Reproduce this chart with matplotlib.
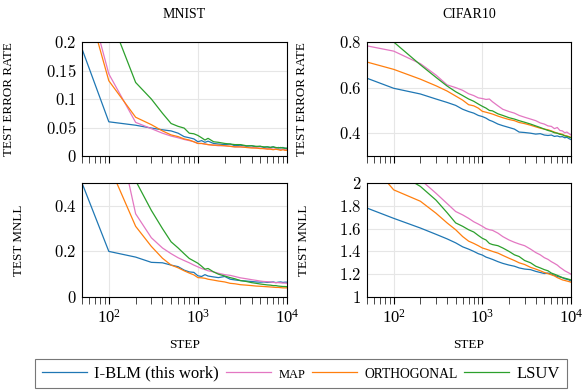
import matplotlib
matplotlib.use("Agg")
import matplotlib.pyplot as plt
from matplotlib.ticker import FixedLocator, LogLocator, NullFormatter, FuncFormatter

plt.rcParams['font.family'] = ['Liberation Serif', 'DejaVu Serif']
plt.rcParams['mathtext.fontset'] = 'cm'

steps = [50, 100, 200, 300, 400, 500, 600, 700, 800, 900, 1000, 1100, 1200, 1300,
         1500, 1700, 2000, 2300, 2600, 3000, 3500, 4000, 4500, 5000, 5500, 6000,
         6500, 7000, 7500, 8000, 8500, 9000, 9500, 10000]

# MNIST test error rate
mnist_err_iblm = [0.188, 0.060, 0.054, 0.049, 0.046, 0.044, 0.040, 0.034, 0.032, 0.030, 0.025, 0.027, 0.024, 0.026,
                  0.022, 0.021, 0.020, 0.021, 0.018, 0.019, 0.017, 0.018, 0.016, 0.017, 0.015, 0.016,
                  0.015, 0.016, 0.014, 0.015, 0.014, 0.015, 0.013, 0.014]
mnist_err_map = [0.32, 0.144, 0.059, 0.048, 0.040, 0.035, 0.032, 0.029, 0.027, 0.025, 0.022, 0.022, 0.021, 0.020,
                 0.019, 0.018, 0.018, 0.017, 0.016, 0.016, 0.015, 0.015, 0.014, 0.014, 0.013, 0.013,
                 0.013, 0.012, 0.012, 0.012, 0.011, 0.012, 0.011, 0.011]
mnist_err_orth = [0.30, 0.132, 0.068, 0.055, 0.044, 0.037, 0.034, 0.030, 0.028, 0.025, 0.022, 0.022, 0.021, 0.020,
                  0.019, 0.019, 0.018, 0.017, 0.016, 0.016, 0.015, 0.014, 0.014, 0.013, 0.013, 0.012,
                  0.012, 0.011, 0.012, 0.011, 0.010, 0.011, 0.010, 0.010]
mnist_err_lsuv = [0.40, 0.25, 0.129, 0.100, 0.075, 0.057, 0.052, 0.049, 0.040, 0.039, 0.036, 0.032, 0.028, 0.031,
                  0.025, 0.024, 0.022, 0.021, 0.020, 0.020, 0.018, 0.018, 0.017, 0.017, 0.016, 0.016,
                  0.015, 0.016, 0.015, 0.014, 0.015, 0.014, 0.014, 0.013]

# CIFAR10 test error rate
cifar_err_iblm = [0.641, 0.597, 0.572, 0.550, 0.535, 0.522, 0.505, 0.495, 0.488, 0.478, 0.473, 0.466, 0.457, 0.452,
                  0.440, 0.433, 0.425, 0.418, 0.405, 0.403, 0.400, 0.396, 0.398, 0.392, 0.390, 0.392,
                  0.386, 0.388, 0.384, 0.385, 0.380, 0.382, 0.376, 0.372]
cifar_err_map = [0.783, 0.760, 0.705, 0.655, 0.612, 0.600, 0.588, 0.573, 0.565, 0.555, 0.552, 0.548, 0.550, 0.538,
                 0.520, 0.505, 0.495, 0.488, 0.478, 0.470, 0.462, 0.455, 0.445, 0.440, 0.432, 0.430,
                 0.420, 0.425, 0.412, 0.410, 0.402, 0.405, 0.398, 0.392]
cifar_err_orth = [0.712, 0.680, 0.637, 0.608, 0.585, 0.563, 0.545, 0.525, 0.520, 0.510, 0.496, 0.492, 0.488, 0.484,
                  0.475, 0.468, 0.460, 0.455, 0.447, 0.442, 0.435, 0.428, 0.422, 0.418, 0.415, 0.410,
                  0.405, 0.400, 0.398, 0.395, 0.390, 0.388, 0.385, 0.382]
cifar_err_lsuv = [0.83, 0.800, 0.700, 0.645, 0.607, 0.582, 0.565, 0.550, 0.540, 0.528, 0.518, 0.510, 0.500, 0.498,
                  0.485, 0.478, 0.468, 0.462, 0.455, 0.448, 0.440, 0.432, 0.425, 0.418, 0.412, 0.408,
                  0.402, 0.400, 0.395, 0.393, 0.388, 0.386, 0.383, 0.380]

# MNIST test MNLL
mnist_nll_iblm = [0.50, 0.200, 0.175, 0.152, 0.150, 0.140, 0.133, 0.118, 0.110, 0.108, 0.093, 0.090, 0.098, 0.092,
                  0.088, 0.085, 0.090, 0.078, 0.075, 0.072, 0.070, 0.068, 0.066, 0.065, 0.066, 0.064,
                  0.065, 0.066, 0.063, 0.065, 0.066, 0.064, 0.065, 0.065]
mnist_nll_map = [1.5, 0.90, 0.365, 0.260, 0.215, 0.190, 0.172, 0.160, 0.150, 0.140, 0.132, 0.125, 0.120, 0.115,
                 0.110, 0.104, 0.098, 0.095, 0.090, 0.084, 0.080, 0.076, 0.073, 0.070, 0.068, 0.067,
                 0.066, 0.064, 0.063, 0.063, 0.062, 0.061, 0.061, 0.060]
mnist_nll_orth = [1.2, 0.58, 0.310, 0.222, 0.170, 0.140, 0.128, 0.115, 0.105, 0.097, 0.085, 0.084, 0.082, 0.078,
                  0.074, 0.070, 0.066, 0.060, 0.058, 0.054, 0.052, 0.050, 0.048, 0.047, 0.046, 0.045,
                  0.044, 0.043, 0.042, 0.042, 0.041, 0.040, 0.040, 0.040]
mnist_nll_lsuv = [1.8, 1.1, 0.51, 0.380, 0.300, 0.242, 0.215, 0.190, 0.169, 0.158, 0.148, 0.135, 0.122, 0.125,
                  0.110, 0.100, 0.092, 0.085, 0.080, 0.072, 0.068, 0.063, 0.060, 0.057, 0.055, 0.053,
                  0.052, 0.050, 0.050, 0.048, 0.047, 0.046, 0.046, 0.045]

# CIFAR10 test MNLL
cifar_nll_iblm = [1.78, 1.69, 1.605, 1.55, 1.51, 1.475, 1.44, 1.42, 1.40, 1.38, 1.368, 1.35, 1.34, 1.33,
                  1.31, 1.295, 1.28, 1.27, 1.255, 1.245, 1.24, 1.225, 1.215, 1.206, 1.21, 1.20,
                  1.19, 1.18, 1.175, 1.17, 1.16, 1.155, 1.15, 1.14]
cifar_nll_map = [2.8, 2.45, 2.03, 1.91, 1.82, 1.75, 1.72, 1.69, 1.66, 1.64, 1.62, 1.60, 1.59, 1.585,
                 1.56, 1.53, 1.50, 1.48, 1.465, 1.45, 1.42, 1.39, 1.37, 1.345, 1.33, 1.31,
                 1.295, 1.28, 1.26, 1.245, 1.23, 1.22, 1.21, 1.20]
cifar_nll_orth = [2.21, 1.94, 1.84, 1.735, 1.65, 1.59, 1.53, 1.49, 1.47, 1.45, 1.43, 1.42, 1.41, 1.40,
                  1.385, 1.365, 1.34, 1.32, 1.30, 1.285, 1.26, 1.245, 1.23, 1.215, 1.205, 1.195,
                  1.185, 1.17, 1.16, 1.15, 1.145, 1.14, 1.135, 1.13]
cifar_nll_lsuv = [2.3, 2.11, 1.97, 1.85, 1.74, 1.65, 1.62, 1.59, 1.57, 1.54, 1.515, 1.50, 1.47, 1.46,
                  1.45, 1.43, 1.40, 1.37, 1.355, 1.32, 1.30, 1.27, 1.255, 1.24, 1.23, 1.21,
                  1.20, 1.19, 1.18, 1.17, 1.165, 1.16, 1.155, 1.15]

labels = ['I-BLM (this work)', 'MAP', 'ORTHOGONAL', 'LSUV']
colors = ['#1f77b4', '#e377c2', '#ff7f0e', '#2ca02c']

panels = [
    ('MNIST', 'TEST ERROR RATE', [mnist_err_iblm, mnist_err_map, mnist_err_orth, mnist_err_lsuv],
     (0, 0.2), [0, 0.05, 0.1, 0.15, 0.2]),
    ('CIFAR10', 'TEST ERROR RATE', [cifar_err_iblm, cifar_err_map, cifar_err_orth, cifar_err_lsuv],
     (0.3, 0.8), [0.4, 0.6, 0.8]),
    (None, 'TEST MNLL', [mnist_nll_iblm, mnist_nll_map, mnist_nll_orth, mnist_nll_lsuv],
     (0, 0.5), [0, 0.2, 0.4]),
    (None, 'TEST MNLL', [cifar_nll_iblm, cifar_nll_map, cifar_nll_orth, cifar_nll_lsuv],
     (1, 2), [1, 1.2, 1.4, 1.6, 1.8, 2]),
]

W, H = 584, 391
fig = plt.figure(figsize=(W / 100, H / 100), dpi=100)
boxes = [(82, 42, 205, 114), (367, 42, 204, 114), (82, 183, 205, 114), (367, 183, 204, 114)]
ylab_x = [-0.327, -0.29, -0.278, -0.28]

fmt = FuncFormatter(lambda v, p: '$%g$' % v)

lines = []
for i, (title, ylab, series, ylim, yticks) in enumerate(panels):
    x0, y0, w, h = boxes[i]
    ax = fig.add_axes([x0 / W, 1 - (y0 + h) / H, w / W, h / H])
    lines = []
    for s, c in zip(series, colors):
        ln, = ax.plot(steps, s, color=c, lw=0.9)
        lines.append(ln)
    ax.set_xscale('log')
    ax.set_xlim(50, 10000)
    ax.set_ylim(*ylim)
    ax.yaxis.set_major_locator(FixedLocator(yticks))
    ax.yaxis.set_major_formatter(fmt)
    ax.xaxis.set_major_locator(LogLocator(base=10, numticks=10))
    ax.xaxis.set_minor_locator(LogLocator(base=10, subs=range(2, 10), numticks=20))
    ax.xaxis.set_minor_formatter(NullFormatter())
    ax.grid(True, which='major', color='#e6e6e6', lw=0.8)
    ax.set_axisbelow(True)
    ax.tick_params(axis='y', length=0, labelsize=12, pad=4)
    ax.tick_params(axis='x', which='major', length=5, width=0.8, direction='out', labelsize=12)
    ax.tick_params(axis='x', which='minor', length=5, width=0.5, direction='out')
    for sp in ax.spines.values():
        sp.set_linewidth(0.8)
    ax.set_ylabel(ylab, fontsize=9.4)
    ax.yaxis.set_label_coords(ylab_x[i], 0.5)
    if title:
        ax.text(0.5, 1.237, title, transform=ax.transAxes, ha='center', va='center', fontsize=10)
        ax.tick_params(axis='x', labelbottom=False)
    else:
        ax.set_xlabel('STEP', fontsize=9.5)
        ax.xaxis.set_label_coords(0.5, -0.37)

leg = fig.legend(lines, labels, loc='upper center', bbox_to_anchor=(301 / W, 1 - 359 / H),
                 ncol=4, fontsize=12, frameon=True, fancybox=False, edgecolor='#555555',
                 handlelength=2.7, columnspacing=0.4, handletextpad=0.45, borderpad=0.4,
                 borderaxespad=0)
leg.get_frame().set_linewidth(0.8)
leg.get_texts()[1].set_fontsize(9)
leg.get_texts()[2].set_fontsize(9.8)

fig.savefig('out.png', dpi=100)
